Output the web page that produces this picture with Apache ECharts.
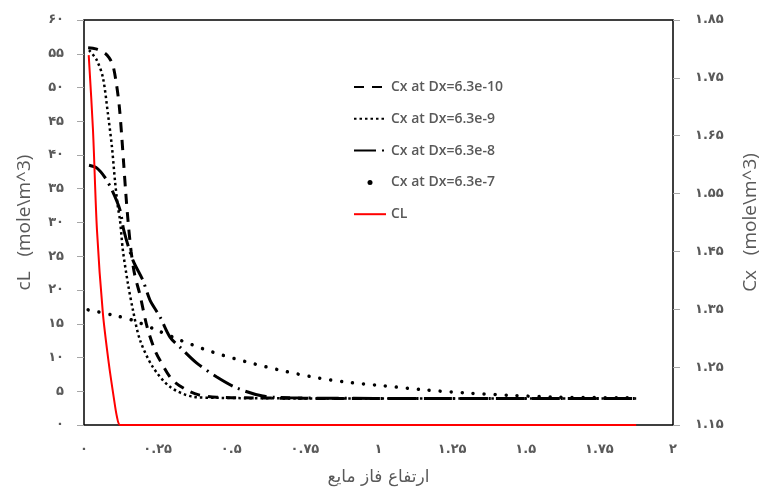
<!DOCTYPE html>
<html>
<head>
<meta charset="utf-8">
<script src="https://cdn.jsdelivr.net/npm/echarts@6/dist/echarts.min.js"></script>
<style>
  html, body { margin: 0; padding: 0; background: #fff; }
  #chart { width: 761px; height: 488px; }
</style>
</head>
<body>
<div id="chart"></div>
<script>
// tick labels (persian digits, as in the reference)
var xTickLabels = ['۰', '۰.۲۵', '۰.۵', '۰.۷۵', '۱', '۱.۲۵', '۱.۵', '۱.۷۵', '۲'];
var cLTickLabels = ['۰', '۵', '۱۰', '۱۵', '۲۰', '۲۵', '۳۰', '۳۵', '۴۰', '۴۵', '۵۰', '۵۵', '۶۰'];
var cxTickLabels = ['۱.۱۵', '۱.۲۵', '۱.۳۵', '۱.۴۵', '۱.۵۵', '۱.۶۵', '۱.۷۵', '۱.۸۵'];

var seriesNames = ['Cx at Dx=6.3e-10', 'Cx at Dx=6.3e-9', 'Cx at Dx=6.3e-8', 'Cx at Dx=6.3e-7', 'CL'];

// [height, Cx]
var cxDx10 = [
  [0.014, 1.802], [0.04, 1.800], [0.07, 1.793], [0.085, 1.785], [0.098, 1.772],
  [0.11, 1.74], [0.12, 1.70], [0.128, 1.65], [0.135, 1.60], [0.142, 1.55],
  [0.15, 1.50], [0.16, 1.45], [0.172, 1.41], [0.19, 1.375], [0.214, 1.32],
  [0.24, 1.28], [0.26, 1.26], [0.30, 1.228], [0.35, 1.21], [0.39, 1.202],
  [0.45, 1.198], [0.55, 1.197], [0.8, 1.196], [1.2, 1.196], [1.6, 1.196], [1.875, 1.196]
];
var cxDx9 = [
  [0.017, 1.798], [0.043, 1.781], [0.064, 1.751], [0.081, 1.689], [0.095, 1.63],
  [0.105, 1.573], [0.115, 1.527], [0.122, 1.505], [0.132, 1.452], [0.149, 1.395],
  [0.166, 1.349], [0.19, 1.297], [0.234, 1.25], [0.292, 1.216], [0.369, 1.199],
  [0.45, 1.197], [0.7, 1.196], [1.2, 1.196], [1.6, 1.196], [1.875, 1.196]
];
var cxDx8 = [
  [0.017, 1.599], [0.044, 1.594], [0.071, 1.578], [0.095, 1.556], [0.122, 1.522],
  [0.135, 1.487], [0.166, 1.435], [0.2, 1.40], [0.224, 1.366], [0.258, 1.337],
  [0.292, 1.302], [0.325, 1.285], [0.383, 1.257], [0.451, 1.233], [0.519, 1.214],
  [0.607, 1.200], [0.7, 1.197], [1.0, 1.196], [1.4, 1.196], [1.875, 1.196]
];
var cxDx7 = [
  [0.014, 1.349], [0.098, 1.340], [0.166, 1.331], [0.247, 1.314], [0.325, 1.297],
  [0.437, 1.276], [0.553, 1.259], [0.664, 1.245], [0.776, 1.233], [0.892, 1.224],
  [0.993, 1.219], [1.15, 1.211], [1.308, 1.205], [1.46, 1.201], [1.614, 1.198], [1.875, 1.197]
];
// [height, cL]
var cL = [
  [0.016, 54.8], [0.0305, 43.7], [0.044, 28.9], [0.064, 16.6], [0.084, 9.2],
  [0.101, 4.1], [0.112, 1.2], [0.123, 0], [0.2, 0], [0.6, 0], [1.2, 0], [1.875, 0]
];

var textColor = '#595959';
var faFont = '"DejaVu Sans", sans-serif';

var chart = echarts.init(document.getElementById('chart'));

chart.setOption({
  animation: false,
  backgroundColor: '#fff',
  grid: {
    left: 84, right: 88, top: 20, bottom: 63,
    show: true, borderColor: '#000', borderWidth: 1.5,
    outerBoundsMode: 'none'
  },
  legend: {
    orient: 'vertical',
    left: 353, top: 79, padding: 0,
    itemWidth: 32, itemHeight: 5, itemGap: 15.8,
    itemStyle: { opacity: 0 },
    textStyle: { color: textColor, fontSize: 14, fontWeight: 600, fontFamily: '"Open Sans", sans-serif', lineHeight: 16 },
    data: [
      { name: seriesNames[0] },
      { name: seriesNames[1] },
      { name: seriesNames[2] },
      { name: seriesNames[3], icon: 'circle', itemStyle: { opacity: 1, color: '#000' } },
      { name: seriesNames[4] }
    ]
  },
  xAxis: {
    type: 'value', min: 0, max: 2, interval: 0.25,
    name: 'ارتفاع فاز مایع', nameLocation: 'middle', nameGap: 44,
    nameTextStyle: { color: textColor, fontSize: 17, fontFamily: faFont },
    axisLine: { show: false }, axisTick: { show: false }, splitLine: { show: false },
    axisLabel: {
      color: textColor, fontSize: 13, fontWeight: 'bold', fontFamily: faFont, margin: 18,
      formatter: function (v) { return xTickLabels[Math.round(v / 0.25)]; }
    }
  },
  yAxis: [
    {
      type: 'value', min: 0, max: 60, interval: 5, position: 'left',
      name: 'cL   (mole\\m^3)', nameLocation: 'middle', nameRotate: 90, nameGap: 50,
      nameTextStyle: { color: textColor, fontSize: 19, fontFamily: '"Open Sans", sans-serif' },
      axisLine: { show: false },
      axisTick: { show: true, length: 7, lineStyle: { color: '#a6a6a6' } },
      splitLine: { show: false },
      axisLabel: {
        color: textColor, fontSize: 13, fontWeight: 'bold', fontFamily: faFont, margin: 20,
        formatter: function (v) { return cLTickLabels[Math.round(v / 5)]; }
      }
    },
    {
      type: 'value', min: 1.15, max: 1.85, interval: 0.1, position: 'right',
      name: 'Cx   (mole\\m^3)', nameLocation: 'middle', nameRotate: 90, nameGap: 68,
      nameTextStyle: { color: textColor, fontSize: 19, fontFamily: '"Open Sans", sans-serif' },
      axisLine: { show: false },
      axisTick: { show: true, length: 7, lineStyle: { color: '#a6a6a6' } },
      splitLine: { show: false },
      axisLabel: {
        color: textColor, fontSize: 13, fontWeight: 'bold', fontFamily: faFont, margin: 22,
        formatter: function (v) { return cxTickLabels[Math.round((v - 1.15) / 0.1)]; }
      }
    }
  ],
  series: [
    {
      name: seriesNames[0], type: 'line', yAxisIndex: 1, data: cxDx10,
      symbol: 'none', smooth: 0.3,
      itemStyle: { color: '#000' },
      lineStyle: { color: '#000', width: 3, type: [10, 8] }
    },
    {
      name: seriesNames[1], type: 'line', yAxisIndex: 1, data: cxDx9,
      symbol: 'none', smooth: 0.3,
      itemStyle: { color: '#000' },
      lineStyle: { color: '#000', width: 2.5, type: [2.5, 3] }
    },
    {
      name: seriesNames[2], type: 'line', yAxisIndex: 1, data: cxDx8,
      symbol: 'none', smooth: 0.3,
      itemStyle: { color: '#000' },
      lineStyle: { color: '#000', width: 3, type: [22, 6, 2, 6] }
    },
    {
      name: seriesNames[3], type: 'line', yAxisIndex: 1, data: cxDx7,
      symbol: 'none', smooth: 0.3,
      itemStyle: { color: '#000' },
      lineStyle: { color: '#000', width: 3.5, type: [0.01, 11], cap: 'round' }
    },
    {
      name: seriesNames[4], type: 'line', yAxisIndex: 0, data: cL,
      symbol: 'none', smooth: 0.3,
      itemStyle: { color: '#ff0000' },
      lineStyle: { color: '#ff0000', width: 2 }
    }
  ]
});
</script>
</body>
</html>
